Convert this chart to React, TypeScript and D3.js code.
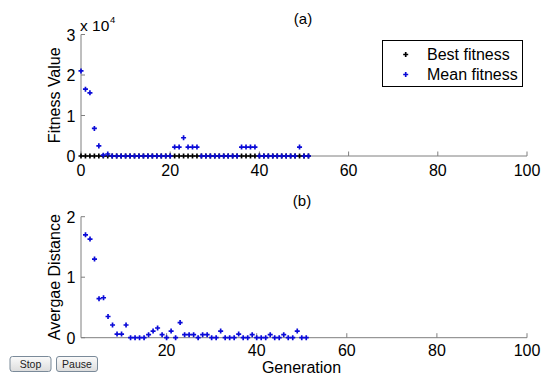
import React from "react";
import * as d3 from "d3";

const W = 543;
const H = 378;

// Top panel (a): generations 0..51
const genTop = d3.range(0, 52);
const bestFitness = genTop.map(() => 0);
const meanFitness = [
  21000, 16500, 15600, 6800, 2500, 200, 500, 0, 0, 0,
  0, 0, 0, 0, 0, 0, 0, 0, 0, 0,
  0, 2200, 2200, 4500, 2200, 2200, 2200, 0, 0, 0,
  0, 0, 0, 0, 0, 0, 2200, 2200, 2200, 2200,
  0, 0, 0, 0, 0, 0, 0, 0, 0, 2200,
  0, 0,
];

// Bottom panel (b): generations 2..51
const genBottom = d3.range(2, 52);
const avgDistance = [
  1.7, 1.63, 1.3, 0.645, 0.66, 0.35, 0.21, 0.06, 0.06, 0.21,
  0, 0, 0, 0, 0.05, 0.11, 0.16, 0.05, 0, 0.11,
  0, 0.25, 0.05, 0.05, 0.05, 0, 0.05, 0.05, 0, 0,
  0.11, 0, 0, 0, 0.06, 0, 0, 0.05, 0, 0,
  0, 0.05, 0, 0, 0.05, 0, 0, 0.11, 0, 0,
];

const xTicksTop = [0, 20, 40, 60, 80, 100];
const xTicksBottom = [20, 40, 60, 80, 100];
const yTicksTop = [0, 1, 2, 3];
const yTicksBottom = [0, 1, 2];

const FONT = "'Liberation Sans', Arial, sans-serif";
const AXIS = "#7f7f7f";
const BLUE = "#0a0ad8";
const TICK_FS = 16;
const LABEL_FS = 16;

const xTop = d3.scaleLinear().domain([0, 100]).range([81, 527]);
const yTop = d3.scaleLinear().domain([0, 30000]).range([156, 34.5]);
const xBot = d3.scaleLinear().domain([1, 100]).range([81, 527]);
const yBot = d3.scaleLinear().domain([0, 2]).range([337.7, 216.7]);

const cross = d3.symbol().type(d3.symbolCross).size(14)()!;

function Marker({ x, y, color }: { x: number; y: number; color: string }) {
  return <path d={cross} transform={`translate(${x},${y})`} fill={color} />;
}

function Button({ x, label }: { x: number; label: string }) {
  return (
    <g>
      <rect x={x + 0.5} y={356.5} width={41} height={15} rx={2.5} fill="url(#btn)" stroke="#7a8a99" />
      <text x={x + 21} y={368} textAnchor="middle" fontSize={10.5} fontFamily={FONT} fill="#222">
        {label}
      </text>
    </g>
  );
}

export default function App() {
  const [x0, x1] = xTop.range();
  return (
    <svg width={W} height={H} style={{ position: "absolute", left: 0, top: 0 }}>
      <defs>
        <linearGradient id="btn" x1="0" y1="0" x2="0" y2="1">
          <stop offset="0" stopColor="#fbfbfb" />
          <stop offset="1" stopColor="#dcdcdc" />
        </linearGradient>
      </defs>
      <rect width={W} height={H} fill="#fff" />

      {/* ---------- Panel (a) ---------- */}
      <text x={303} y={24} textAnchor="middle" fontSize={15} fontFamily={FONT}>(a)</text>
      <text x={80} y={31} fontSize={15.5} fontFamily={FONT}>x 10</text>
      <text x={110} y={22.5} fontSize={9.5} fontFamily={FONT}>4</text>
      <line x1={x0} x2={x0} y1={yTop(30000)} y2={yTop(0)} stroke={AXIS} />
      <line x1={x0} x2={x1} y1={yTop(0)} y2={yTop(0)} stroke={AXIS} />
      {yTicksTop.map((t) => (
        <g key={t}>
          <line x1={x0} x2={x0 + 4} y1={yTop(t * 10000)} y2={yTop(t * 10000)} stroke={AXIS} />
          <text x={75.5} y={yTop(t * 10000) + 6} textAnchor="end" fontSize={TICK_FS} fontFamily={FONT}>{t}</text>
        </g>
      ))}
      {xTicksTop.map((t) => (
        <g key={t}>
          <line x1={xTop(t)} x2={xTop(t)} y1={yTop(0)} y2={yTop(0) - 4.5} stroke={AXIS} />
          <text x={xTop(t)} y={176} textAnchor="middle" fontSize={TICK_FS} fontFamily={FONT}>{t}</text>
        </g>
      ))}
      <text transform={`translate(60,${(yTop(0) + yTop(30000)) / 2}) rotate(-90)`} textAnchor="middle" fontSize={LABEL_FS} fontFamily={FONT}>
        Fitness Value
      </text>
      {genTop.map((g, i) => (
        <Marker key={"b" + g} x={xTop(g)} y={yTop(bestFitness[i])} color="#000" />
      ))}
      {genTop.map((g, i) => (
        <Marker key={"m" + g} x={xTop(g)} y={yTop(meanFitness[i])} color={BLUE} />
      ))}

      {/* legend */}
      <rect x={382.5} y={40.5} width={140} height={46} fill="#fff" stroke="#000" />
      <Marker x={405.7} y={54.5} color="#000" />
      <Marker x={405.7} y={74.5} color={BLUE} />
      <text x={427} y={60} fontSize={16} fontFamily={FONT}>Best fitness</text>
      <text x={427} y={80} fontSize={16} fontFamily={FONT}>Mean fitness</text>

      {/* ---------- Panel (b) ---------- */}
      <text x={302} y={205.5} textAnchor="middle" fontSize={15} fontFamily={FONT}>(b)</text>
      <line x1={x0} x2={x0} y1={yBot(2)} y2={yBot(0)} stroke={AXIS} />
      <line x1={x0} x2={x1} y1={yBot(0)} y2={yBot(0)} stroke={AXIS} />
      {yTicksBottom.map((t) => (
        <g key={t}>
          <line x1={x0} x2={x0 + 4} y1={yBot(t)} y2={yBot(t)} stroke={AXIS} />
          <text x={75.5} y={yBot(t) + 6} textAnchor="end" fontSize={TICK_FS} fontFamily={FONT}>{t}</text>
        </g>
      ))}
      {xTicksBottom.map((t) => (
        <g key={t}>
          <line x1={xBot(t)} x2={xBot(t)} y1={yBot(0)} y2={yBot(0) - 4.5} stroke={AXIS} />
          <text x={xBot(t)} y={355.5} textAnchor="middle" fontSize={TICK_FS} fontFamily={FONT}>{t}</text>
        </g>
      ))}
      <text transform={`translate(60,${(yBot(0) + yBot(2)) / 2}) rotate(-90)`} textAnchor="middle" fontSize={LABEL_FS} fontFamily={FONT}>
        Avergae Distance
      </text>
      <text x={301.5} y={373} textAnchor="middle" fontSize={LABEL_FS} fontFamily={FONT}>Generation</text>
      {genBottom.map((g, i) => (
        <Marker key={"d" + g} x={xBot(g)} y={yBot(avgDistance[i])} color={BLUE} />
      ))}

      <Button x={9.5} label="Stop" />
      <Button x={56} label="Pause" />
    </svg>
  );
}
